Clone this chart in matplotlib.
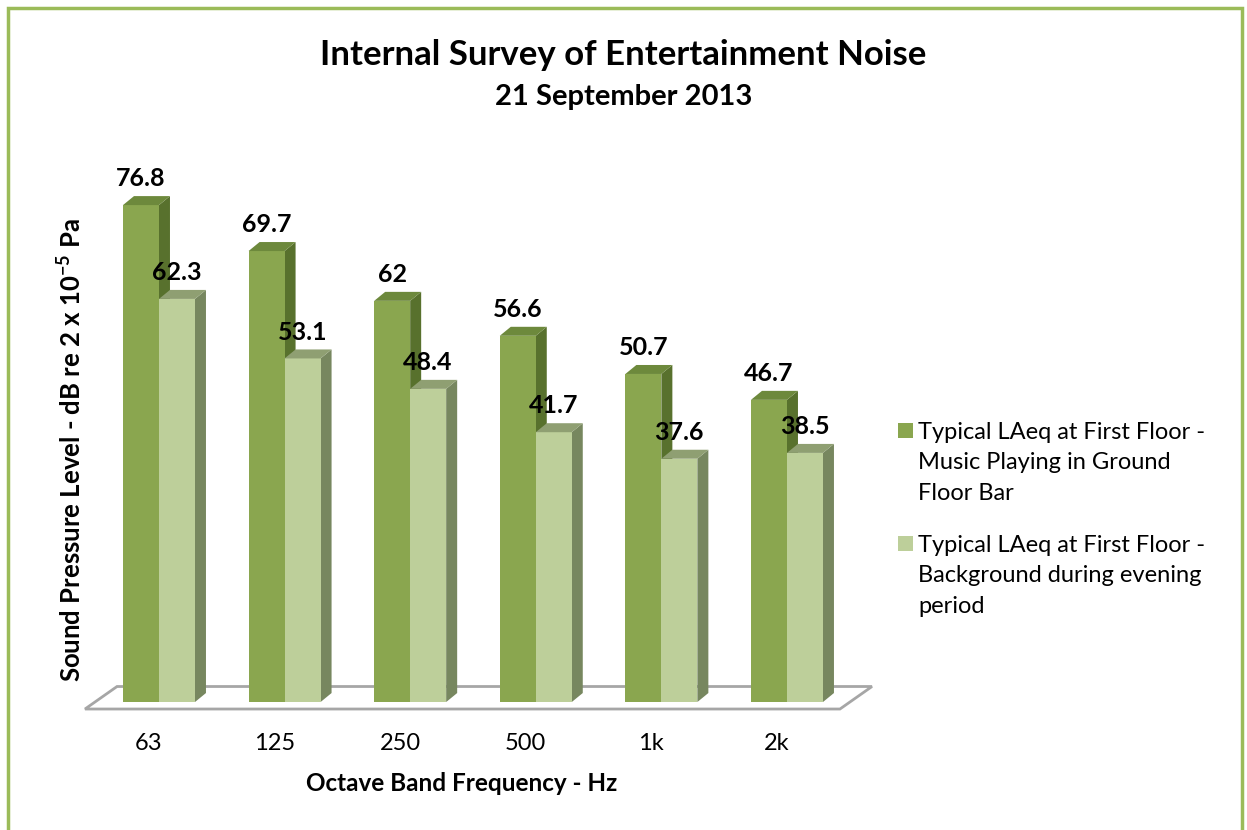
import matplotlib
matplotlib.use("Agg")
import matplotlib.pyplot as plt
from matplotlib.patches import Polygon, Rectangle

plt.rcParams['font.family'] = ['Lato', 'DejaVu Sans']
plt.rcParams['mathtext.fontset'] = 'custom'
plt.rcParams['mathtext.rm'] = 'Lato'
plt.rcParams['mathtext.bf'] = 'Lato:bold'

# data
bands = ['63', '125', '250', '500', '1k', '2k']
music = [76.8, 69.7, 62.0, 56.6, 50.7, 46.7]
background = [62.3, 53.1, 48.4, 41.7, 37.6, 38.5]
labels = ['Typical LAeq at First Floor -\nMusic Playing in Ground\nFloor Bar',
          'Typical LAeq at First Floor -\nBackground during evening\nperiod']

# face colours: front, top, side
dark = ('#8aa64f', '#6d893c', '#58712d')
light = ('#bdcf9a', '#8f9f72', '#77875f')

W, H = 1247, 830
fig = plt.figure(figsize=(W / 100, H / 100), dpi=100)

def fx(px):
    return px / W

def fy(py):
    return 1 - py / H

# axes box in pixels
L, R, T, B = 60, 900, 140, 725
ax = fig.add_axes([fx(L), fy(B), fx(R) - fx(L), fy(T) - fy(B)])
ax.set_xlim(-0.788, 5.900)
ax.set_ylim(-3.55, 86.86)
ax.axis('off')

bw = 0.2866   # bar width
dx = 0.0876   # depth offset x
dz = 1.39     # depth offset y (dB)

# floor
floor = Polygon([(-0.589, -1.08), (5.422, -1.08), (5.677, 2.4), (-0.334, 2.4)],
                closed=True, facecolor='white', edgecolor='#a6a6a6', lw=2, zorder=1)
ax.add_patch(floor)

def bar3d(x0, v, cols):
    front = Polygon([(x0, 0), (x0 + bw, 0), (x0 + bw, v), (x0, v)],
                    facecolor=cols[0], edgecolor='none', zorder=2)
    top = Polygon([(x0, v), (x0 + bw, v), (x0 + bw + dx, v + dz), (x0 + dx, v + dz)],
                  facecolor=cols[1], edgecolor='none', zorder=2)
    side = Polygon([(x0 + bw, 0), (x0 + bw + dx, dz), (x0 + bw + dx, v + dz), (x0 + bw, v)],
                   facecolor=cols[2], edgecolor='none', zorder=2)
    for p in (side, front, top):
        ax.add_patch(p)

for i in range(len(bands)):
    bar3d(i - bw, music[i], dark)
    bar3d(i, background[i], light)
    for x0, v in ((i - bw, music[i]), (i, background[i])):
        ax.annotate('{:g}'.format(v), (x0 + bw / 2, v), xytext=(0, 19),
                    textcoords='offset points', ha='center', va='center',
                    fontsize=18, fontweight='bold', zorder=5)
    ax.text(i - 0.08, -6.4, bands[i], ha='center', va='center', fontsize=17,
            clip_on=False)

fig.text(0.5, fy(55), 'Internal Survey of Entertainment Noise', ha='center',
         va='center', fontsize=25, fontweight='bold')
fig.text(0.5, fy(97), '21 September 2013', ha='center', va='center',
         fontsize=21, fontweight='bold')
fig.text(fx(462), fy(783), 'Octave Band Frequency - Hz', ha='center', va='center',
         fontsize=17.5, fontweight='bold')
fig.text(fx(71), fy(450), r'Sound Pressure Level - dB re 2 x 10$^{\mathbf{-5}}$ Pa',
         ha='center', va='center', rotation=90, fontsize=18.5, fontweight='bold')

# legend
for k, (lab, c) in enumerate(zip(labels, (dark[0], light[0]))):
    y0 = 423 + k * 113
    fig.patches.append(Rectangle((fx(898), fy(y0 + 15)), fx(15), 15 / H,
                                 transform=fig.transFigure, facecolor=c,
                                 edgecolor='none'))
    fig.text(fx(918), fy(y0 - 1), lab, ha='left', va='top', fontsize=17,
             linespacing=1.55)

# outer border
fig.patches.append(Rectangle((fx(8), -0.01), fx(1242) - fx(8), fy(8) + 0.01,
                             transform=fig.transFigure, facecolor='none',
                             edgecolor='#9bbb59', lw=2.5))

fig.savefig('out.png', dpi=100)
